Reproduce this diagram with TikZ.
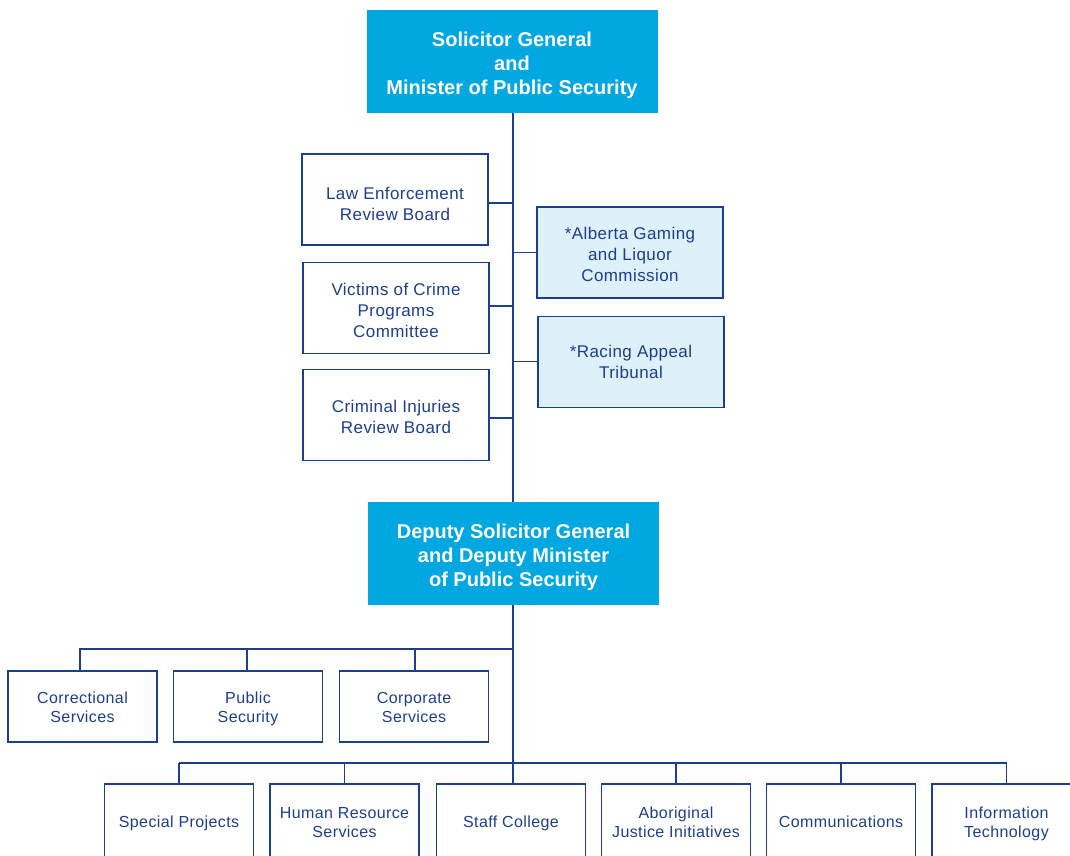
\documentclass[tikz,border=0pt]{standalone}
\usepackage{fontspec}
\setmainfont{Liberation Sans}[LetterSpace=2.5]
\newfontfamily\headfont{Liberation Sans}
\definecolor{navy}{HTML}{1C3F8C}
\definecolor{cyanbox}{HTML}{00A7E1}
\definecolor{paleblue}{HTML}{DEF0FA}
% invisible strut that makes a first line taller, so the text sits lower
\newcommand\lowerby[1]{\rule{0pt}{#1}}
\tikzset{
  box/.style={draw=navy, line width=1.3pt, text=navy, align=center,
    inner sep=0pt, anchor=center, text depth=0pt},
  headbox/.style={fill=cyanbox, draw=none, text=white, align=center,
    inner sep=0pt, text depth=0pt,
    font=\headfont\bfseries\fontsize{20}{24}\selectfont,
    minimum width=291pt, minimum height=103pt},
  sidebox/.style={box, minimum width=186pt, minimum height=91pt,
    font=\fontsize{17}{21}\selectfont},
  agency/.style={sidebox, fill=paleblue},
  unitbox/.style={box, minimum width=149pt, minimum height=71pt,
    font=\fontsize{16}{19}\selectfont},
  branch/.style={box, minimum width=149pt, minimum height=76pt,
    font=\fontsize{16}{19}\selectfont},
  link/.style={draw=navy, line width=1.3pt}
}
\begin{document}
\begin{tikzpicture}[x=1pt, y=-1pt]
\useasboundingbox (0,0) rectangle (1070,855);
\clip (0,0) rectangle (1070,855);

% executive level
\node[headbox] (sg) at (512,61.5) {\lowerby{18.8pt}Solicitor General\\and\\Minister of Public Security};
\node[headbox] (dsg) at (513.5,553.5) {\lowerby{18.8pt}Deputy Solicitor General\\and Deputy Minister\\of Public Security};

% boards and committees
\node[sidebox] (lerb) at (395,199.5) {\lowerby{20.4pt}Law Enforcement\\Review Board};
\node[sidebox] (vcp) at (396,308) {\lowerby{16.4pt}Victims of Crime\\Programs\\Committee};
\node[sidebox] (cirb) at (396,415) {\lowerby{16.4pt}Criminal Injuries\\Review Board};

% agencies
\node[agency] (aglc) at (630,252.5) {\lowerby{16.4pt}*Alberta Gaming\\and Liquor\\Commission};
\node[agency] (rat) at (631,361.7) {*Racing Appeal\\Tribunal};

% divisions
\node[unitbox] (cs) at (82.5,706.5) {\lowerby{13.8pt}Correctional\\Services};
\node[unitbox] (ps) at (248,706.5) {\lowerby{13.8pt}Public\\Security};
\node[unitbox] (cps) at (414,706.5) {\lowerby{13.8pt}Corporate\\Services};

% branches
\node[branch] (sp) at (179,822) {Special Projects};
\node[branch] (hr) at (344.5,822) {Human Resource\\Services};
\node[branch] (sc) at (511,822) {Staff College};
\node[branch] (aji) at (676,822) {Aboriginal\\Justice Initiatives};
\node[branch] (com) at (841,822) {Communications};
\node[branch] (it) at (1006.5,822) {Information\\Technology};

% main trunk
\coordinate (trunk) at (513,0);
\draw[link] (sg.south -| trunk) -- (dsg.north -| trunk);
\draw[link] (dsg.south -| trunk) -- (sc.north -| trunk);

% side connectors
\draw[link] ([yshift=-3.5pt]lerb.east) -- ([yshift=-3.5pt]lerb.east -| trunk);
\draw[link] ([yshift=2pt]vcp.east) -- ([yshift=2pt]vcp.east -| trunk);
\draw[link] ([yshift=-3pt]cirb.east) -- ([yshift=-3pt]cirb.east -| trunk);
\draw[link] (aglc.west) -- (aglc.west -| trunk);
\draw[link] (rat.west) -- (rat.west -| trunk);

% division bus
\coordinate (busm) at (0,649);
\draw[link] (cs.north -| 80,0) |- (busm -| trunk);
\draw[link] (ps.north -| 247,0) -- (busm -| 247,0);
\draw[link] (cps.north -| 415,0) -- (busm -| 415,0);

% branch bus
\coordinate (busb) at (0,763);
\draw[link] (sp.north |- busb) -- (it.north |- busb);
\draw[link] (sp.north) -- (sp.north |- busb);
\draw[link] (hr.north) -- (hr.north |- busb);
\draw[link] (aji.north) -- (aji.north |- busb);
\draw[link] (com.north) -- (com.north |- busb);
\draw[link] (it.north) -- (it.north |- busb);
\end{tikzpicture}
\end{document}
